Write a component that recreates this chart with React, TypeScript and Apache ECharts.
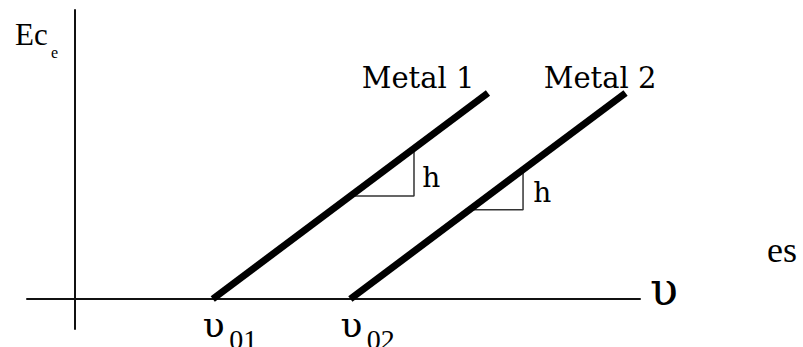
import React, { useEffect, useRef } from "react";
import * as echarts from "echarts";

// Data (frequency ν on x, kinetic energy Ec on y)
const thresholds = [4, 8]; // ν01, ν02
const thresholdLabels = ["01", "02"];
const metalNames = ["Metal 1", "Metal 2"];
const metalEndNu = [12, 16];
const metalEndEc = [8, 8];
const slopeTri1 = [
  [8, 4],
  [9.85, 4],
  [9.85, 5.85],
];
const slopeTri2 = [
  [11.46, 3.46],
  [13.02, 3.46],
  [13.02, 5.02],
];
const nameLabelPos = [
  [9.97, 8.58],
  [15.26, 8.58],
];
const slopeLabelPos = [
  [10.35, 4.72],
  [13.58, 4.14],
];
const slopeLabel = "h";
const xRange = [-1.4, 16.42];
const yRange = [-1.165, 11.22];

const labelBase = {
  show: true,
  color: "#000",
  opacity: 1,
  textBorderWidth: 0,
  align: "center",
  verticalAlign: "middle",
};

export default function App() {
  const ref = useRef<HTMLDivElement>(null);
  useEffect(() => {
    if (!ref.current) return;
    const chart = echarts.init(ref.current, null, { renderer: "svg" });
    const metalSeries = metalNames.map((n, i) => ({
      type: "line",
      name: n,
      data: [
        [thresholds[i], 0],
        [metalEndNu[i], metalEndEc[i]],
      ],
      symbol: "none",
      lineStyle: { color: "#000", width: 7, cap: "butt" },
      z: 3,
    }));
    const triSeries = [slopeTri1, slopeTri2].map((d) => ({
      type: "line",
      data: d,
      symbol: "none",
      lineStyle: { color: "#333", width: 1.5 },
      z: 2,
    }));
    const labelData = [
      ...nameLabelPos.map((p, i) => ({
        value: p,
        label: {
          formatter: metalNames[i],
          fontFamily: "DejaVu Serif",
          fontSize: 29,
        },
      })),
      ...slopeLabelPos.map((p) => ({
        value: p,
        label: {
          formatter: slopeLabel,
          fontFamily: "DejaVu Serif",
          fontSize: 28,
        },
      })),
    ];
    const hidden = { color: "rgba(0,0,0,0)", opacity: 1 };
    chart.setOption({
      animation: false,
      backgroundColor: "#fff",
      grid: {
        left: 27,
        right: 163,
        top: 10,
        bottom: 18,
        containLabel: false,
        outerBoundsMode: "none",
      },
      xAxis: {
        type: "value",
        min: xRange[0],
        max: xRange[1],
        axisLine: { onZero: true, lineStyle: { color: "#111", width: 2 } },
        axisTick: { show: false },
        splitLine: { show: false },
        axisLabel: { show: false },
        name: "υ",
        nameLocation: "end",
        nameGap: 10,
        nameTextStyle: {
          fontFamily: "DejaVu Serif",
          fontSize: 46,
          color: "#000",
          verticalAlign: "bottom",
          lineHeight: 20,
        },
      },
      yAxis: {
        type: "value",
        min: yRange[0],
        max: yRange[1],
        axisLine: { onZero: true, lineStyle: { color: "#111", width: 2 } },
        axisTick: { show: false },
        axisLabel: { show: false },
        splitLine: { show: false },
      },
      graphic: [
        {
          type: "text",
          left: 15,
          top: 19,
          style: { text: "Ec", font: '31px "Liberation Serif"', fill: "#000" },
        },
        {
          type: "text",
          left: 51,
          top: 44,
          style: { text: "e", font: '16px "Liberation Serif"', fill: "#000" },
        },
        {
          type: "text",
          left: 767,
          top: 232,
          style: { text: "es", font: '36px "Liberation Serif"', fill: "#000" },
        },
      ],
      series: [
        ...metalSeries,
        ...triSeries,
        {
          type: "scatter",
          data: labelData,
          symbolSize: 1,
          clip: false,
          itemStyle: hidden,
          label: { ...labelBase, position: "inside" },
          labelLayout: { hideOverlap: false },
          z: 4,
        },
        {
          type: "scatter",
          data: thresholds.map((t) => [t, 0]),
          symbolSize: 1,
          clip: false,
          itemStyle: hidden,
          label: {
            ...labelBase,
            position: [1.5, 26.5],
            formatter: "υ",
            fontFamily: "DejaVu Serif",
            fontSize: 36,
          },
          labelLayout: { hideOverlap: false },
          z: 4,
        },
        {
          type: "scatter",
          data: thresholds.map((t, i) => ({ value: [t, 0], name: thresholdLabels[i] })),
          symbolSize: 1,
          clip: false,
          itemStyle: hidden,
          label: {
            ...labelBase,
            position: [31, 41.5],
            formatter: "{b}",
            fontFamily: "Liberation Serif",
            fontSize: 28,
          },
          labelLayout: { hideOverlap: false },
          z: 4,
        },
      ],
    });
    return () => chart.dispose();
  }, []);
  return (
    <div
      ref={ref}
      style={{ position: "fixed", left: 0, top: 0, width: 803, height: 347, background: "#fff" }}
    />
  );
}
